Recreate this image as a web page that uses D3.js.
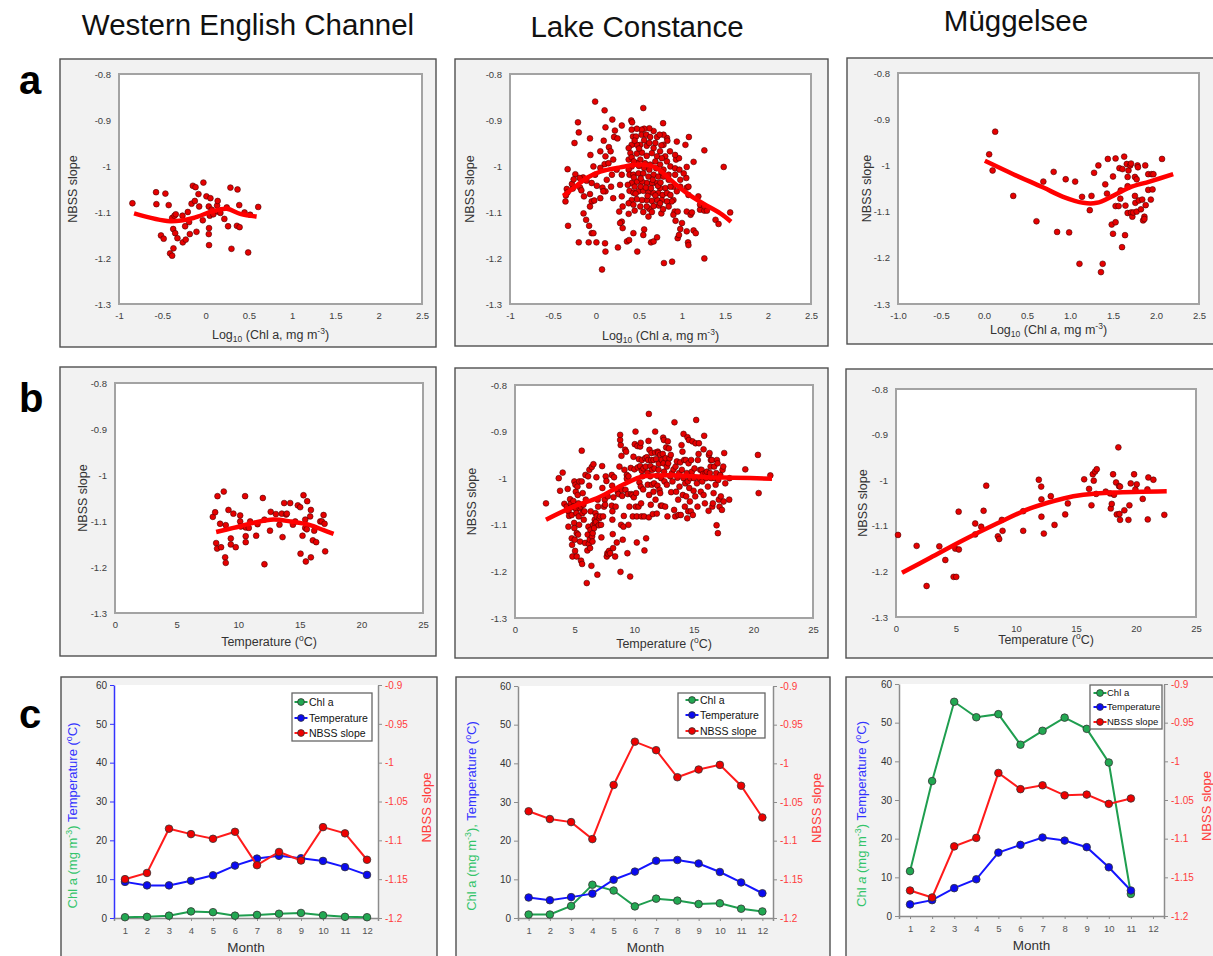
<!DOCTYPE html>
<html>
<head>
<meta charset="utf-8">
<script src="https://cdnjs.cloudflare.com/ajax/libs/d3/7.8.5/d3.min.js"></script>
<style>
  body { margin: 0; background: #fff; }
  svg { display: block; font-family: "Liberation Sans", Arial, sans-serif; }
</style>
</head>
<body>
<div id="chart"></div>
<script>
// ---------- labels & ticks ----------
var siteNames = ["Western English Channel", "Lake Constance", "Müggelsee"];
var rowLetters = ["a", "b", "c"];
var slopeTicks = [-0.8, -0.9, -1, -1.1, -1.2, -1.3];
var slopeTickLabels = ["-0.8", "-0.9", "-1", "-1.1", "-1.2", "-1.3"];
var chlTicks = [-1, -0.5, 0, 0.5, 1, 1.5, 2, 2.5];
var chlTickLabels = ["-1", "-0.5", "0", "0.5", "1", "1.5", "2", "2.5"];
var chlTickLabelsMg = ["-1.0", "-0.5", "0.0", "0.5", "1.0", "1.5", "2.0", "2.5"];
var tempTicks = [0, 5, 10, 15, 20, 25];
var months = [1, 2, 3, 4, 5, 6, 7, 8, 9, 10, 11, 12];
var leftTicks = [0, 10, 20, 30, 40, 50, 60];
var rightTicks = [-0.9, -0.95, -1, -1.05, -1.1, -1.15, -1.2];
var rightTickLabels = ["-0.9", "-0.95", "-1", "-1.05", "-1.1", "-1.15", "-1.2"];
var seriesNames = ["Chl a", "Temperature", "NBSS slope"];

// ---------- row a: NBSS slope vs log10 chl a ----------
var wecChlPts = [[-0.845,-1.081],[-0.572,-1.057],[-0.568,-1.083],[-0.464,-1.060],[-0.426,-1.085],[-0.515,-1.151],[-0.484,-1.158],
  [-0.41,-1.19],[-0.386,-1.195],[-0.371,-1.179],[-0.386,-1.113],[-0.359,-1.108],[-0.344,-1.105],[-0.374,-1.137],[-0.351,-1.146],
  [-0.325,-1.157],[-0.263,-1.166],[-0.229,-1.160],[-0.267,-1.108],[-0.236,-1.131],[-0.205,-1.100],[-0.190,-1.122],[-0.182,-1.148],
  [-0.162,-1.082],[-0.147,-1.043],[-0.116,-1.046],[-0.124,-1.076],[-0.105,-1.143],[-0.082,-1.061],[-0.074,-1.088],[-0.032,-1.118],
  [-0.025,-1.036],[0.01,-1.066],[0.037,-1.088],[0.04,-1.135],[0.037,-1.148],[0.04,-1.172],[0.056,-1.070],[0.048,-1.108],
  [0.071,-1.095],[0.09,-1.105],[0.133,-1.086],[0.14,-1.076],[0.144,-1.099],[0.171,-1.102],[0.217,-1.115],[0.245,-1.090],
  [0.26,-1.131],[0.287,-1.047],[0.299,-1.180],[0.369,-1.051],[0.362,-1.130],[0.393,-1.133],[0.389,-1.085],[0.45,-1.101],
  [0.492,-1.188],[0.515,-1.106],[0.608,-1.089]];
var wecChlFit = [[-0.826,-1.103],[-0.41,-1.120],[-0.14,-1.113],[0.07,-1.099],[0.245,-1.093],[0.40,-1.104],[0.59,-1.110]];

var lcChlPts = [[-0.01,-0.860],[0.55,-0.874],[0.10,-0.879],[0.19,-0.899],[-0.21,-0.905],[0.41,-0.901],[0.11,-0.916],[0.30,-0.912],
  [-0.20,-0.927],[0.22,-0.923],[0.42,-0.905],[0.78,-0.907],[-0.25,-0.950],[0.09,-0.945],[-0.07,-0.940],[0.21,-0.937],[0.25,-0.940],
  [1.08,-0.937],[0.94,-0.947],[-0.33,-1.007],[-0.24,-1.018],[-0.065,-0.976],[0.05,-0.968],[0.11,-0.979],[0.15,-0.959],[0.17,-0.968],
  [0.10,-0.996],[0.05,-1.004],[-0.03,-1.001],[-0.01,-1.019],[-0.15,-1.025],[-0.185,-1.047],[-0.34,-1.050],[-0.33,-1.057],[-0.27,-1.049],
  [-0.35,-1.064],[-0.355,-1.077],[-0.17,-1.053],[-0.14,-1.066],[-0.07,-1.061],[-0.05,-1.077],[-0.07,-1.088],[-0.02,-1.075],[0.05,-1.070],
  [0.075,-1.047],[0.11,-1.055],[0.175,-1.045],[0.20,-1.070],[-0.145,-1.103],[-0.115,-1.117],[-0.08,-1.130],[-0.05,-1.146],[-0.03,-1.146],
  [-0.085,-1.166],[0.005,-1.166],[0.105,-1.168],[0.11,-1.186],[0.255,-1.177],[0.07,-1.225],[-0.325,-1.130],[-0.20,-1.166],[0.27,-1.099],
  [0.30,-1.121],[0.28,-1.124],[0.31,-1.135],[0.36,-1.164],[0.38,-1.104],[0.385,-1.161],[0.435,-1.146],[0.48,-1.186],[0.56,-1.138],
  [0.55,-1.150],[0.61,-1.110],[0.62,-1.093],[0.64,-1.166],[0.67,-1.164],[0.71,-1.155],[0.73,-1.086],[0.76,-1.103],[0.79,-1.211],
  [0.90,-1.074],[0.915,-1.099],[0.925,-1.119],[0.90,-1.106],[0.95,-1.099],[0.95,-1.157],[0.965,-1.150],[0.885,-1.208],[0.98,-1.137],
  [1.00,-1.124],[1.055,-1.099],[1.07,-1.166],[1.055,-1.142],[1.10,-1.106],[1.115,-1.101],[1.075,-1.172],[1.135,-1.140],[1.16,-1.146],
  [1.26,-1.201],[1.21,-1.095],[1.21,-1.084],[1.19,-1.066],[1.26,-1.097],[1.26,-1.088],[1.29,-1.097],[1.39,-1.117],[1.425,-1.126],
  [1.485,-1.002],[1.56,-1.101],[1.26,-0.966],[1.135,-0.991],[1.055,-1.002],[1.04,-0.954],[1.05,-1.026],[1.055,-1.047],[1.075,-1.045],
  [1.075,-1.063],[0.98,-1.045],[0.94,-1.055],
  [0.90,-1.045],[0.92,-1.019],[0.93,-0.986],[0.965,-0.983],[0.86,-0.968],[0.785,-0.954],[0.825,-0.939],[0.785,-0.932],[0.67,-0.924],
  [0.62,-0.918],[0.56,-0.919],[0.53,-0.921],[0.475,-0.919],[0.415,-0.921],[0.43,-0.936],[0.465,-0.936],[0.53,-0.932],[0.585,-0.932],
  [0.63,-0.937],[0.71,-0.937],[0.74,-0.932],[0.83,-0.945],[0.92,-0.976],[0.805,-0.979],[0.745,-0.968],[0.67,-0.961],[0.59,-0.956],
  [0.515,-0.954],[0.475,-0.954],[0.415,-0.954],[0.38,-0.961],[0.40,-0.972],[0.38,-0.986],[0.415,-0.981],[0.475,-0.973],[0.535,-0.971],
  [0.59,-0.978],[0.65,-0.972],[0.71,-0.979],[0.765,-0.983],[0.825,-0.990],[0.865,-1.001],[0.92,-1.005],[0.97,-1.008],[1.02,-1.016],
  [0.98,-1.030],[0.845,-1.019],[0.785,-1.008],[0.745,-0.997],[0.69,-0.990],[0.63,-0.997],[0.57,-0.994],[0.515,-0.986],[0.475,-0.994],
  [0.415,-1.001],[0.38,-1.008],[0.39,-1.019],[0.435,-1.019],[0.495,-1.016],[0.55,-1.016],[0.61,-1.023],[0.67,-1.019],[0.725,-1.023],
  [0.785,-1.023],[0.845,-1.030],[0.865,-1.045],[0.805,-1.048],[0.745,-1.048],[0.70,-1.037],[0.65,-1.037],[0.59,-1.037],[0.535,-1.034],
  [0.475,-1.034],[0.415,-1.037],[0.37,-1.041],[0.39,-1.054],[0.435,-1.058],[0.495,-1.055],[0.55,-1.054],[0.61,-1.058],[0.67,-1.059],
  [0.725,-1.059],[0.775,-1.063],[0.825,-1.059],[0.865,-1.063],[0.88,-1.077],[0.825,-1.077],[0.765,-1.074],[0.71,-1.074],[0.65,-1.076],
  [0.59,-1.074],[0.535,-1.074],[0.475,-1.072],[0.415,-1.074],[0.38,-1.081],[0.435,-1.084],[0.515,-1.088],[0.59,-1.088],[0.67,-1.087],
  [0.745,-1.081],[0.845,-1.088],[0.30,-1.019],[0.28,-1.041],[0.30,-1.066],[0.31,-1.088],[0.24,-1.008],[0.20,-0.986],[0.145,-0.994],
  [0.185,-1.019],[0.125,-1.030],[0.085,-1.055],[-0.05,-1.037],[0.01,-1.043],[-0.11,-1.032],[-0.28,-1.039],[-0.26,-1.029],[-0.19,-1.026],
  [0.45,-0.945],[0.50,-0.962],[0.56,-0.944],[0.62,-0.950],[0.69,-0.950],[0.76,-0.955],[0.44,-0.990],[0.50,-1.000],[0.56,-1.004],
  [0.62,-1.008],[0.70,-1.005],[0.76,-1.013],[0.45,-1.045],[0.52,-1.045],[0.58,-1.047],[0.64,-1.048],[0.72,-1.043],[0.46,-1.060],
  [0.60,-1.065],[0.69,-1.064],[0.44,-1.025],[0.52,-1.027],[0.66,-1.030],[0.75,-1.036],[0.55,-1.100],[0.65,-1.100],[0.45,-1.097],[0.78,-1.094]];
var lcChlFit = [[-0.38,-1.065],[-0.26,-1.048],[-0.11,-1.026],[0.05,-1.012],[0.28,-1.003],[0.515,-0.997],[0.71,-1.005],[0.865,-1.030],
  [1.055,-1.059],[1.25,-1.082],[1.445,-1.103],[1.57,-1.121]];

var mgChlPts = [[0.06,-0.976],[0.13,-0.927],[0.10,-1.011],[0.34,-1.066],[0.61,-1.121],[0.69,-1.035],[0.81,-1.014],[0.85,-1.144],
  [0.95,-1.030],[0.99,-1.145],[1.06,-1.035],[1.11,-1.213],[1.14,-1.068],[1.23,-1.097],[1.25,-1.066],[1.28,-1.016],[1.33,-1.000],
  [1.36,-1.231],[1.38,-1.213],[1.41,-1.041],[1.44,-0.986],[1.43,-1.061],[1.485,-1.128],[1.50,-1.024],[1.50,-1.148],[1.53,-1.088],
  [1.53,-0.985],[1.53,-1.123],[1.565,-1.088],[1.575,-1.006],[1.585,-1.072],[1.59,-1.054],[1.61,-1.008],[1.605,-1.177],[1.63,-0.981],
  [1.64,-1.151],[1.645,-1.087],[1.66,-0.997],[1.67,-1.025],[1.67,-1.045],[1.67,-1.103],[1.68,-1.011],[1.70,-1.000],[1.71,-0.996],
  [1.71,-1.102],[1.725,-1.111],[1.735,-1.102],[1.755,-1.025],[1.755,-1.066],[1.76,-1.081],[1.775,-1.030],[1.775,-1.100],[1.785,-1.000],
  [1.79,-1.004],[1.80,-1.076],[1.825,-1.095],[1.84,-1.074],[1.85,-1.119],[1.865,-1.111],[1.865,-1.116],[1.875,-1.000],[1.88,-1.086],
  [1.91,-1.019],[1.91,-1.053],[1.94,-1.074],[1.95,-1.019],[1.96,-1.052],[1.97,-1.019],[2.07,-0.986]];
var mgChlFit = [[0.01,-0.990],[0.34,-1.019],[0.69,-1.048],[0.92,-1.068],[1.155,-1.081],[1.31,-1.081],[1.50,-1.066],[1.69,-1.048],
  [1.925,-1.035],[2.20,-1.019]];

// ---------- row b: NBSS slope vs temperature ----------
var wecTempPts = [[7.94,-1.091],[8.13,-1.081],[8.21,-1.148],[8.32,-1.046],[8.29,-1.160],[8.53,-1.106],[8.61,-1.157],[8.83,-1.036],
  [8.99,-1.109],[8.94,-1.179],[8.99,-1.191],[9.21,-1.076],[9.40,-1.138],[9.40,-1.151],[9.61,-1.084],[9.80,-1.157],[10.16,-1.088],
  [10.16,-1.101],[10.56,-1.046],[10.61,-1.114],[10.61,-1.133],[10.61,-1.146],[10.86,-1.115],[10.97,-1.101],[11.46,-1.132],[11.57,-1.107],
  [12.00,-1.050],[12.13,-1.097],[12.13,-1.194],[12.58,-1.121],[12.64,-1.080],[13.06,-1.085],[13.35,-1.108],[13.54,-1.084],[13.60,-1.135],
  [13.73,-1.061],[13.89,-1.086],[13.95,-1.084],[14.22,-1.061],[14.44,-1.108],[14.63,-1.101],[14.84,-1.066],[15.03,-1.070],[15.06,-1.171],
  [15.22,-1.132],[15.30,-1.044],[15.44,-1.097],[15.44,-1.115],[15.49,-1.188],[15.60,-1.057],[15.57,-1.118],[15.84,-1.090],[15.90,-1.076],
  [15.90,-1.179],[16.06,-1.142],[16.17,-1.121],[16.33,-1.146],[16.66,-1.101],[16.79,-1.101],[16.93,-1.087],[17.01,-1.106],[17.06,-1.166],
  [10.21,-1.112]];
var wecTempFit = [[8.21,-1.124],[9.62,-1.115],[11.24,-1.104],[12.87,-1.097],[14.22,-1.101],[15.84,-1.109],[16.93,-1.120],[17.74,-1.128]];

var lcTempPts = [[2.60,-1.054],[3.67,-1.000],[3.78,-1.027],[4.00,-0.988],[4.14,-1.055],[4.34,-1.061],[4.42,-1.023],[4.48,-1.071],
  [4.54,-1.081],[4.48,-1.104],[4.62,-1.045],[4.68,-1.055],[4.70,-1.063],[4.76,-1.079],[4.76,-1.129],[4.79,-1.143],[4.82,-1.168],
  [4.90,-1.049],[4.93,-1.061],[4.96,-1.096],[4.98,-1.007],[4.98,-1.107],[5.01,-1.132],[5.04,-1.156],[5.07,-1.014],[5.10,-1.029],
  [5.12,-1.066],[5.15,-1.075],[5.18,-1.118],[5.18,-1.168],[5.24,-1.018],[5.26,-1.036],[5.29,-1.121],[5.32,-1.054],[5.35,-1.082],
  [5.38,-1.100],[5.40,-1.007],[5.43,-1.064],[5.46,-1.136],[5.52,-1.061],[5.54,-1.177],[5.60,-0.941],[5.60,-1.007],[5.63,-1.184],
  [5.66,-1.075],[5.68,-1.032],[5.74,-1.057],[5.77,-1.089],[5.82,-1.071],[5.88,-1.139],[5.91,-0.993],[5.94,-1.046],[6.02,-1.225],
  [6.07,-1.155],[6.10,-1.121],[6.13,-0.996],[6.16,-1.104],[6.19,-1.141],[6.22,-1.016],[6.24,-0.982],[6.27,-1.132],[6.30,-1.150],
  [6.33,-1.111],[6.35,-1.071],[6.41,-1.188],[6.44,-0.976],[6.47,-1.125],[6.50,-1.136],[6.52,-1.118],[6.55,-1.100],[6.58,-0.970],
  [6.64,-1.107],[6.69,-1.089],[6.72,-1.096],[6.75,-1.075],[6.80,-1.094],[6.83,-0.998],[6.86,-1.082],[6.91,-1.207],[6.94,-1.046],
  [6.97,-1.061],[7.03,-1.101],[7.08,-1.086],[7.14,-1.082],[7.22,-1.100],[7.25,-1.127],[7.31,-0.974],[7.33,-1.021],[7.39,-1.082],
  [7.47,-1.061],[7.53,-1.046],[7.56,-1.057],[7.61,-0.996],[7.67,-1.006],[7.70,-1.168],[7.75,-1.161],[7.78,-1.039],[7.84,-1.163],
  [7.89,-1.156],[7.98,-1.161],[8.12,-0.993],[8.12,-1.059],[8.15,-1.016],[8.17,-1.071],[8.17,-1.089],[8.20,-1.120],[8.23,-1.150],
  [8.26,-1.041],[8.31,-0.998],[8.40,-1.168],[8.45,-1.061],[8.54,-1.138],[8.62,-1.029],[8.68,-1.034],[8.76,-0.975],[8.82,-0.918],
  [8.82,-0.907],[8.85,-1.201],[8.87,-0.929],[8.90,-1.100],[8.93,-0.952],[8.96,-1.025],[8.99,-1.038],[9.04,-1.132],[9.10,-1.104],
  [9.13,-1.081],[9.18,-0.982],[9.24,-0.939],[9.27,-1.025],[9.32,-0.943],[9.38,-0.993],[9.38,-1.001],[9.43,-1.161],[9.46,-1.034],
  [9.52,-1.100],[9.52,-0.996],[9.60,-1.061],[9.66,-1.211],[9.71,-0.978],[9.74,-1.034],[9.85,-1.036],[9.88,-1.082],[9.94,-0.954],
  [9.97,-1.041],[10.02,-0.981],[10.05,-0.927],[10.11,-0.900],[10.13,-1.061],[10.16,-1.032],[10.22,-1.082],[10.22,-1.138],[10.27,-0.931],
  [10.30,-0.977],[10.36,-1.061],[10.39,-0.959],[10.44,-1.009],[10.50,-0.932],[10.50,-0.974],[10.55,-0.924],[10.55,-1.018],[10.58,-1.054],
  [10.61,-1.082],[10.64,-0.961],[10.64,-0.984],[10.69,-0.996],[10.75,-1.024],[10.78,-0.979],[10.83,-1.082],[10.86,-1.155],[10.92,-0.957],
  [10.97,-0.975],[11.00,-1.129],[11.06,-0.955],[11.11,-0.988],[11.14,-1.014],[11.17,-0.961],[11.20,-0.920],[11.23,-0.862],[11.23,-1.084],
  [11.25,-1.036],[11.28,-0.939],[11.34,-0.996],[11.37,-0.974],[11.39,-1.057],[11.42,-0.961],[11.45,-0.946],[11.48,-1.014],[11.51,-0.982],
  [11.56,-1.077],[11.62,-1.029],[11.62,-0.961],[11.67,-1.011],[11.70,-0.979],[11.76,-0.900],[11.76,-0.945],[11.79,-1.046],[11.84,-0.959],
  [11.90,-1.076],[11.93,-0.995],[11.95,-1.016],[11.98,-0.943],[12.01,-0.946],[12.04,-0.982],[12.07,-0.969],[12.12,-1.025],[12.18,-1.032],
  [12.18,-0.950],[12.23,-1.059],[12.26,-1.000],[12.32,-0.961],[12.35,-1.059],[12.40,-0.948],[12.43,-0.913],[12.46,-0.968],[12.49,-0.918],
  [12.51,-0.986],[12.54,-1.007],[12.60,-1.061],[12.63,-0.957],[12.68,-0.934],[12.74,-0.975],[12.74,-1.014],[12.79,-1.082],[12.82,-0.921],
  [12.85,-0.968],[12.91,-0.936],[12.96,-0.957],[13.02,-0.996],[13.07,-0.950],[13.10,-1.030],[13.16,-0.989],[13.21,-1.007],[13.30,-0.981],
  [13.35,-1.068],[13.38,-0.880],[13.44,-1.082],[13.47,-0.975],[13.52,-1.029],[13.58,-0.964],[13.63,-0.999],[13.69,-1.046],[13.72,-1.079],
  [13.77,-0.989],[13.80,-1.018],[13.86,-0.966],[13.91,-1.079],[13.97,-0.929],[14.00,-0.982],[14.05,-0.943],[14.08,-1.036],[14.14,-0.905],
  [14.14,-1.000],[14.19,-0.961],[14.25,-1.061],[14.28,-1.011],[14.33,-0.961],[14.36,-1.039],[14.42,-0.989],[14.45,-1.086],[14.47,-0.912],
  [14.50,-1.007],[14.53,-1.071],[14.56,-0.968],[14.59,-0.918],[14.62,-1.021],[14.67,-1.050],[14.70,-1.000],[14.75,-1.071],[14.78,-0.961],
  [14.84,-0.986],[14.89,-0.921],[14.92,-1.079],[14.98,-1.027],[15.01,-1.000],[15.06,-0.979],[15.12,-1.039],[15.15,-0.925],[15.20,-0.875],
  [15.26,-1.011],[15.31,-1.061],[15.34,-0.961],[15.40,-0.948],[15.43,-0.925],[15.48,-1.000],[15.54,-0.982],[15.59,-1.029],[15.65,-0.982],
  [15.71,-1.007],[15.76,-0.991],[15.82,-0.938],[15.82,-1.036],[15.87,-0.909],[15.93,-1.054],[15.99,-0.989],[16.04,-1.000],[16.10,-0.986],
  [16.18,-1.018],[16.24,-1.070],[16.27,-0.950],[16.32,-0.946],[16.35,-0.989],[16.41,-0.975],[16.43,-0.961],[16.46,-1.000],[16.52,-0.961],
  [16.55,-1.061],[16.60,-1.054],[16.66,-1.032],[16.71,-0.975],[16.77,-1.000],[16.83,-1.014],[16.88,-0.989],[16.91,-1.101],[16.94,-0.961],
  [16.99,-0.968],[17.02,-1.118],[17.05,-1.004],[17.10,-1.046],[17.16,-1.061],[17.22,-0.993],[17.27,-1.039],[17.36,-1.068],[17.41,-0.982],
  [17.47,-0.975],[17.50,-1.050],[17.55,-0.946],[17.64,-1.011],[17.97,-1.046],[18.00,-1.000],[19.32,-0.981],[20.38,-0.950],[20.44,-1.032],
  [21.42,-0.994]];
var lcTempFit = [[2.60,-1.089],[4.90,-1.061],[6.86,-1.043],[8.54,-1.021],[10.50,-0.998],[11.90,-0.994],[13.86,-0.994],[16.10,-0.998],
  [18.34,-0.999],[21.56,-1.001]];

var mgTempPts = [[0.17,-1.120],[1.72,-1.144],[2.55,-1.232],[3.61,-1.145],[4.11,-1.175],[4.80,-1.212],[5.02,-1.212],[4.94,-1.150],
  [5.24,-1.152],[5.22,-1.069],[6.60,-1.095],[6.60,-1.119],[7.10,-1.102],[7.30,-1.067],[7.52,-1.012],[8.49,-1.123],[8.60,-1.129],
  [8.82,-1.087],[8.88,-1.111],[10.60,-1.068],[10.60,-1.111],[11.90,-0.999],[12.10,-1.014],[12.12,-1.042],[12.12,-1.080],[12.32,-1.117],
  [12.90,-1.035],[13.21,-1.098],[14.10,-1.075],[14.32,-1.051],[15.68,-0.998],[16.09,-1.019],[16.29,-1.055],[16.40,-0.987],[16.48,-1.001],
  [16.59,-0.981],[16.73,-0.976],[16.68,-1.030],[17.48,-1.025],[17.84,-1.029],[17.90,-1.062],[17.98,-1.052],[18.09,-0.987],[18.17,-1.032],
  [18.34,-1.005],[18.40,-1.075],[18.53,-0.928],[18.59,-1.013],[18.62,-1.074],[18.67,-1.014],[18.67,-1.087],[19.03,-1.066],[19.37,-1.087],
  [19.45,-1.055],[19.56,-1.007],[19.84,-0.987],[19.95,-1.020],[20.06,-1.009],[20.56,-1.041],[20.95,-1.020],[20.98,-1.086],[21.03,-0.994],
  [21.45,-0.999],[22.36,-1.076]];
var mgTempFit = [[0.50,-1.203],[2.86,-1.170],[5.63,-1.131],[8.41,-1.095],[11.18,-1.062],[13.96,-1.040],[15.62,-1.032],[18.12,-1.027],
  [22.56,-1.024]];

// ---------- row c: monthly means ----------
var wecChl  = [0.2, 0.3, 0.6, 1.7, 1.5, 0.6, 0.8, 1.1, 1.3, 0.7, 0.3, 0.2];
var wecTemp = [9.3, 8.4, 8.4, 9.6, 11.0, 13.5, 15.3, 16.0, 15.4, 14.7, 13.1, 11.1];
var wecNbss = [-1.150, -1.142, -1.085, -1.092, -1.098, -1.089, -1.132, -1.115, -1.126, -1.083, -1.091, -1.125];
var lcChl   = [0.9, 0.9, 3.1, 8.6, 7.1, 3.0, 5.0, 4.5, 3.6, 3.8, 2.4, 1.7];
var lcTemp  = [5.3, 4.6, 5.4, 6.3, 9.9, 12.0, 14.8, 15.0, 14.1, 11.9, 9.2, 6.4];
var lcNbss  = [-1.062, -1.072, -1.076, -1.098, -1.028, -0.972, -0.983, -1.018, -1.008, -1.002, -1.029, -1.070];
var mgChl   = [11.6, 34.9, 55.4, 51.4, 52.2, 44.3, 47.9, 51.3, 48.4, 39.7, 5.7];
var mgTemp  = [3.0, 4.1, 7.2, 9.5, 16.4, 18.4, 20.3, 19.5, 17.8, 12.6, 6.6];
var mgNbss  = [-1.167, -1.176, -1.110, -1.099, -1.015, -1.036, -1.031, -1.044, -1.043, -1.055, -1.048];

// ---------- styling ----------
var GREEN = "#1f9e4f", BLUE = "#1414ff", RED = "#ff1a1a";
var GREEN_TXT = "#33c46a", BLUE_TXT = "#3333ff", RED_TXT = "#ff3b3b";

var svg = d3.select("#chart").append("svg").attr("width", 1213).attr("height", 956);

function rich(text, parts, size) {
  parts.forEach(function(p, i) {
    var ts = text.append("tspan").text(p.t);
    var prev = parts[i - 1];
    var dy = 0;
    if (prev && prev.sup) dy += size * 0.38;
    if (prev && prev.sub) dy -= size * 0.25;
    if (p.sup) { dy -= size * 0.38; ts.attr("font-size", size * 0.68); }
    if (p.sub) { dy += size * 0.25; ts.attr("font-size", size * 0.68); }
    if (dy) ts.attr("dy", dy);
    if (p.c) ts.attr("fill", p.c);
    if (p.i) ts.attr("font-style", "italic");
  });
}

function frame(f) {
  svg.append("rect").attr("x", f.x).attr("y", f.y).attr("width", f.w).attr("height", f.h)
    .attr("fill", "#f2f2f2").attr("stroke", "#505050").attr("stroke-width", 1.4);
}

function styleAxis(ax, color, size) {
  ax.attr("font-family", "Liberation Sans, Arial, sans-serif").attr("font-size", size);
  ax.selectAll("text").attr("fill", color);
}

function scatterPanel(p) {
  frame(p.frame);
  var x = d3.scaleLinear().domain(p.xDomain).range([p.l, p.r]);
  var y = d3.scaleLinear().domain([-1.3, -0.8]).range([p.b, p.t]);
  svg.append("rect").attr("x", p.l).attr("y", p.t).attr("width", p.r - p.l).attr("height", p.b - p.t)
    .attr("fill", "#fff").attr("stroke", "#a3a3a3").attr("stroke-width", 2);

  var ya = svg.append("g").attr("transform", "translate(" + p.l + ",0)")
    .call(d3.axisLeft(y).tickValues(slopeTicks).tickFormat(function(d, i) { return slopeTickLabels[i]; })
      .tickSize(0).tickPadding(8));
  ya.select(".domain").remove();
  styleAxis(ya, "#404040", 9.5);

  var xa = svg.append("g").attr("transform", "translate(0," + p.b + ")")
    .call(d3.axisBottom(x).tickValues(p.xTicks).tickFormat(function(d, i) { return p.xTickLabels[i]; })
      .tickSize(0).tickPadding(8));
  xa.select(".domain").remove();
  styleAxis(xa, "#404040", 9.5);

  svg.append("text").attr("transform", "translate(" + p.yTitleX + "," + (p.t + p.b) / 2 + ") rotate(-90)")
    .attr("text-anchor", "middle").attr("font-size", 12.5).attr("fill", "#333").text(p.yTitle);
  var xt = svg.append("text").attr("x", (p.l + p.r) / 2).attr("y", p.b + p.xTitleDy)
    .attr("text-anchor", "middle").attr("font-size", 12.5).attr("fill", "#333");
  rich(xt, p.xTitle, 12.5);

  svg.append("g").selectAll("circle").data(p.points).join("circle")
    .attr("cx", function(d) { return x(d[0]); }).attr("cy", function(d) { return y(d[1]); })
    .attr("r", 2.9).attr("fill", "#e60000").attr("stroke", "#4a0000").attr("stroke-width", 0.6);

  svg.append("path").datum(p.fit)
    .attr("d", d3.line().x(function(d) { return x(d[0]); }).y(function(d) { return y(d[1]); }).curve(d3.curveCatmullRom))
    .attr("fill", "none").attr("stroke", "#ff0000").attr("stroke-width", 4.5);
}

function monthPanel(p) {
  frame(p.frame);
  var x = d3.scaleLinear().domain([0.5, 12.5]).range([p.l, p.r]);
  var yl = d3.scaleLinear().domain([0, 60]).range([p.b, p.t]);
  var yr = d3.scaleLinear().domain([-1.2, -0.9]).range([p.b, p.t]);
  svg.append("rect").attr("x", p.l).attr("y", p.t).attr("width", p.r - p.l).attr("height", p.b - p.t).attr("fill", "#fff");

  var xa = svg.append("g").attr("transform", "translate(0," + p.b + ")")
    .call(d3.axisBottom(x).tickValues(months).tickSize(3).tickPadding(6));
  xa.select(".domain").attr("stroke", "#8c8c8c").attr("stroke-width", 1.5);
  xa.selectAll(".tick line").attr("stroke", "#8c8c8c");
  styleAxis(xa, "#555", 9.5);

  var la = svg.append("g").attr("transform", "translate(" + p.l + ",0)")
    .call(d3.axisLeft(yl).tickValues(leftTicks).tickSize(4).tickSizeOuter(0).tickPadding(3));
  la.select(".domain").attr("stroke", p.leftAxisColor).attr("stroke-width", 1.5);
  la.selectAll(".tick line").attr("stroke", p.leftAxisColor);
  styleAxis(la, "#333", 10);

  var ra = svg.append("g").attr("transform", "translate(" + p.r + ",0)")
    .call(d3.axisRight(yr).tickValues(rightTicks).tickFormat(function(d, i) { return rightTickLabels[i]; })
      .tickSize(4).tickSizeOuter(0).tickPadding(3));
  ra.select(".domain").attr("stroke", "#8c8c8c").attr("stroke-width", 1.5);
  ra.selectAll(".tick line").attr("stroke", "#8c8c8c");
  styleAxis(ra, RED_TXT, 10);

  var mid = (p.t + p.b) / 2;
  var lt = svg.append("text").attr("transform", "translate(" + p.leftTitleX + "," + (mid + 14) + ") rotate(-90)")
    .attr("text-anchor", "middle").attr("font-size", 13);
  rich(lt, p.leftTitle, 13);
  svg.append("text").attr("transform", "translate(" + p.rightTitleX + "," + (mid + 6) + ") rotate(-90)")
    .attr("text-anchor", "middle").attr("font-size", 13).attr("fill", RED_TXT).text("NBSS slope");
  svg.append("text").attr("x", (p.l + p.r) / 2).attr("y", p.b + 34).attr("text-anchor", "middle")
    .attr("font-size", 13.5).attr("fill", "#333").text("Month");

  var series = [
    { vals: p.chl, y: yl, line: GREEN, fill: "#22a852" },
    { vals: p.temp, y: yl, line: BLUE, fill: "#0a0af0" },
    { vals: p.nbss, y: yr, line: RED, fill: "#ee0000" }
  ];
  series.forEach(function(s) {
    var pts = s.vals.map(function(v, i) { return [months[i], v]; });
    svg.append("path").datum(pts)
      .attr("d", d3.line().x(function(d) { return x(d[0]); }).y(function(d) { return s.y(d[1]); }))
      .attr("fill", "none").attr("stroke", s.line).attr("stroke-width", 2);
    svg.append("g").selectAll("circle").data(pts).join("circle")
      .attr("cx", function(d) { return x(d[0]); }).attr("cy", function(d) { return s.y(d[1]); })
      .attr("r", 3.8).attr("fill", s.fill).attr("stroke", "#333").attr("stroke-width", 0.8);
  });

  // legend
  var L = p.legend;
  svg.append("rect").attr("x", L.x).attr("y", L.y).attr("width", L.w).attr("height", L.h)
    .attr("fill", "#fff").attr("stroke", "#666").attr("stroke-width", 1.3);
  series.forEach(function(s, i) {
    var cy = L.rows[i];
    svg.append("line").attr("x1", L.mx - 6.5).attr("x2", L.mx + 6.5).attr("y1", cy).attr("y2", cy)
      .attr("stroke", s.line).attr("stroke-width", 2);
    svg.append("circle").attr("cx", L.mx).attr("cy", cy).attr("r", 3.4)
      .attr("fill", s.fill).attr("stroke", "#333").attr("stroke-width", 0.8);
    svg.append("text").attr("x", L.tx).attr("y", cy + L.fs * 0.36).attr("font-size", L.fs).attr("fill", "#111")
      .text(seriesNames[i]);
  });
}

// ---------- headings ----------
var titleX = [248, 637, 1016], titleY = [35, 37, 31];
siteNames.forEach(function(n, i) {
  svg.append("text").attr("x", titleX[i]).attr("y", titleY[i]).attr("text-anchor", "middle")
    .attr("font-size", 29.5).attr("fill", "#111").text(n);
});
var letterY = [94, 412, 728];
rowLetters.forEach(function(l, i) {
  svg.append("text").attr("x", 19).attr("y", letterY[i]).attr("font-size", 40).attr("font-weight", "bold")
    .attr("fill", "#000").text(l);
});

// ---------- panels ----------
var logTitle = function(it) {
  return [{ t: "Log" }, { t: "10", sub: true }, { t: " (Chl " }, { t: "a", i: it }, { t: ", mg m" }, { t: "-3", sup: true }, { t: ")" }];
};
var tempTitle = [{ t: "Temperature (" }, { t: "o", sup: true }, { t: "C)" }];

scatterPanel({ frame: { x: 60, y: 59, w: 376, h: 288 }, l: 119, r: 422, t: 74, b: 304, xDomain: [-1, 2.5],
  xTicks: chlTicks, xTickLabels: chlTickLabels, yTitle: "NBSS slope", yTitleX: 77, xTitle: logTitle(false), xTitleDy: 35,
  points: wecChlPts, fit: wecChlFit });
scatterPanel({ frame: { x: 455, y: 59, w: 373, h: 287 }, l: 510, r: 811, t: 74, b: 304, xDomain: [-1, 2.5],
  xTicks: chlTicks, xTickLabels: chlTickLabels, yTitle: "NBSS slope", yTitleX: 474, xTitle: logTitle(true), xTitleDy: 36,
  points: lcChlPts, fit: lcChlFit });
scatterPanel({ frame: { x: 847, y: 58, w: 372, h: 286 }, l: 898, r: 1199, t: 73, b: 304, xDomain: [-1, 2.5],
  xTicks: chlTicks, xTickLabels: chlTickLabelsMg, yTitle: "NBSS slope", yTitleX: 871, xTitle: logTitle(true), xTitleDy: 30,
  points: mgChlPts, fit: mgChlFit });

scatterPanel({ frame: { x: 60, y: 367, w: 376, h: 289 }, l: 115, r: 423, t: 383, b: 613, xDomain: [0, 25],
  xTicks: tempTicks, xTickLabels: tempTicks.map(String), yTitle: "NBSS  slope", yTitleX: 87, xTitle: tempTitle, xTitleDy: 33,
  points: wecTempPts, fit: wecTempFit });
scatterPanel({ frame: { x: 455, y: 368, w: 373, h: 290 }, l: 515, r: 813, t: 385, b: 618, xDomain: [0, 25],
  xTicks: tempTicks, xTickLabels: tempTicks.map(String), yTitle: "NBSS slope", yTitleX: 476, xTitle: tempTitle, xTitleDy: 30,
  points: lcTempPts, fit: lcTempFit });
scatterPanel({ frame: { x: 846, y: 369, w: 373, h: 289 }, l: 896, r: 1196, t: 389, b: 617, xDomain: [0, 25],
  xTicks: tempTicks, xTickLabels: tempTicks.map(String), yTitle: "NBSS slope", yTitleX: 867, xTitle: tempTitle, xTitleDy: 27,
  points: mgTempPts, fit: mgTempFit });

var chlLeft = function(comma, it) {
  return [{ t: "Chl ", c: GREEN_TXT }, { t: "a", c: GREEN_TXT, i: it }, { t: " (mg m", c: GREEN_TXT }, { t: "-3", sup: true, c: GREEN_TXT },
    { t: ")" + (comma ? ", " : " "), c: GREEN_TXT }, { t: "Temperature (", c: BLUE_TXT }, { t: "o", sup: true, c: BLUE_TXT }, { t: "C)", c: BLUE_TXT }];
};

monthPanel({ frame: { x: 61, y: 677, w: 376, h: 290 }, l: 114, r: 378, t: 685, b: 918, leftAxisColor: "#3333ff",
  leftTitle: chlLeft(false, false), leftTitleX: 77, rightTitleX: 431, chl: wecChl, temp: wecTemp, nbss: wecNbss,
  legend: { x: 292, y: 693, w: 80, h: 48, rows: [702, 718, 733], mx: 301, tx: 309, fs: 10.5 } });
monthPanel({ frame: { x: 456, y: 677, w: 374, h: 290 }, l: 518, r: 773, t: 686, b: 918, leftAxisColor: "#8c8c8c",
  leftTitle: chlLeft(true, false), leftTitleX: 476, rightTitleX: 821, chl: lcChl, temp: lcTemp, nbss: lcNbss,
  legend: { x: 678, y: 693, w: 87, h: 45, rows: [700, 715, 731], mx: 692, tx: 700, fs: 10.5 } });
monthPanel({ frame: { x: 846, y: 677, w: 373, h: 290 }, l: 899, r: 1164, t: 684, b: 916, leftAxisColor: "#8c8c8c",
  leftTitle: chlLeft(false, true), leftTitleX: 866, rightTitleX: 1211, chl: mgChl, temp: mgTemp, nbss: mgNbss,
  legend: { x: 1090, y: 685, w: 72, h: 44, rows: [693, 707, 722], mx: 1100, tx: 1107, fs: 9.5 } });
</script>
</body>
</html>
